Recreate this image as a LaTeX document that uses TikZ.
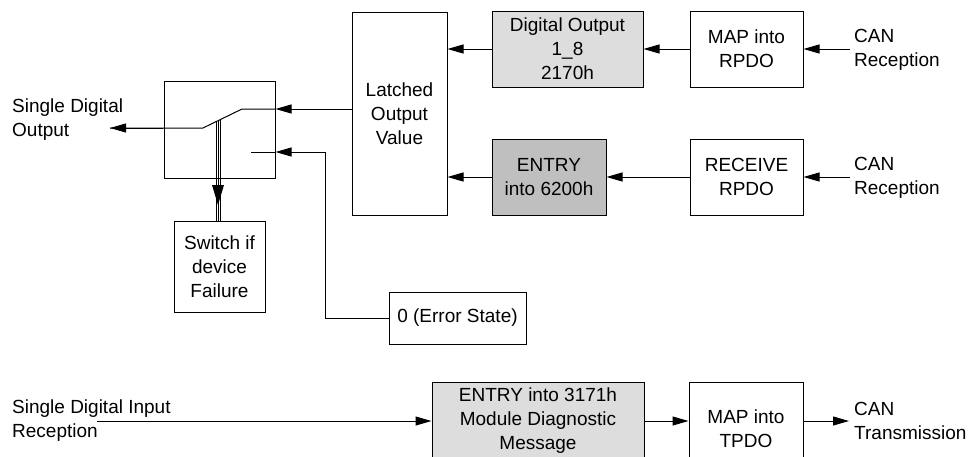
\documentclass[tikz,border=0pt]{standalone}
\usepackage{fontspec}
\setmainfont{Liberation Sans}
\usetikzlibrary{arrows.meta}
\definecolor{lightbox}{HTML}{DDDDDD}
\definecolor{darkbox}{HTML}{BFBFBF}
\begin{document}
\begin{tikzpicture}[x=1pt,y=-1pt,
  every node/.style={font=\fontsize{19}{24}\selectfont, inner sep=0pt, align=center},
  blk/.style={draw, line width=1pt},
  conn/.style={line width=1pt},
  arr/.style={conn, -{Triangle[length=16pt,width=9pt]}},
  lbl/.style={anchor=west, align=left}]
\useasboundingbox (0,0) rectangle (970,456);
% boxes
\node[blk, minimum width=111pt, minimum height=97pt] (sw) at (219.5,129.5) {};
\node[blk, minimum width=91pt, minimum height=91pt] (fail) at (219.5,266.5) {Switch if\\device\\Failure};
\node[blk, minimum width=95pt, minimum height=203pt] (latch) at (399.5,113.5) {Latched\\Output\\Value};
\node[blk, fill=lightbox, minimum width=151pt, minimum height=76pt] (dout) at (567.5,49) {Digital Output\\1\_8\\2170h};
\node[blk, fill=darkbox, minimum width=114pt, minimum height=76pt] (e62) at (549,177) {ENTRY\\into 6200h};
\node[blk, minimum width=113pt, minimum height=76pt] (maprpdo) at (746.5,49) {MAP into\\RPDO};
\node[blk, minimum width=113pt, minimum height=76pt] (recv) at (746.5,177) {RECEIVE\\RPDO};
\node[blk, minimum width=137pt, minimum height=52pt] (err) at (457.5,318) {0 (Error State)};
\node[blk, fill=lightbox, minimum width=212pt, minimum height=78pt] (e31) at (538,421) {ENTRY into 3171h\\Module Diagnostic\\Message};
\node[blk, minimum width=114pt, minimum height=94pt] (maptpdo) at (746,429) {MAP into\\TPDO};
% labels
\node[lbl] (sdo) at (12,120) {Single Digital\\Output};
\node[lbl] (can1) at (854,50) {CAN\\Reception};
\node[lbl] (can2) at (854,178) {CAN\\Reception};
\node[lbl] (sdi) at (12,421) {Single Digital Input\\Reception};
\node[lbl] (cant) at (854,421) {CAN\\Transmission};
% coordinates
\coordinate (pA) at (242,109);
\coordinate (piv) at (203,128);
\coordinate (outtip) at (110,128);
\coordinate (cB) at (251,152);
\coordinate (cC) at (325,152);
\coordinate (inS) at (97,421);
% connectors
\draw[arr] (latch.west |- pA) -- (sw.east |- pA);
\draw[conn] (sw.east |- pA) -- (pA) -- (piv) -- (outtip);
\draw[arr] ([xshift=-1pt]piv -| sw.west) -- (outtip);
\draw[conn] (err.west) -| (cC);
\draw[arr] (cC) -- (sw.east |- cC);
\draw[conn] (sw.east |- cC) -- (cB);
\draw[line width=0.6pt] (216,121.7) -- (216,221) (218,120.7) -- (218,221) (220,119.7) -- (220,221);
\fill (212,185) -- (224,185) -- (218,205) -- cycle;
\draw[arr] (dout.west) -- (latch.east |- dout.west);
\draw[arr] (maprpdo.west) -- (dout.east);
\draw[arr] ([xshift=-4pt]can1.west |- maprpdo.east) -- (maprpdo.east);
\draw[arr] (e62.west) -- (latch.east |- e62.west);
\draw[arr] (recv.west) -- (e62.east);
\draw[arr] ([xshift=-4pt]can2.west |- recv.east) -- (recv.east);
\draw[arr] (inS) -- (e31.west);
\draw[arr] (e31.east) -- (maptpdo.west |- e31.east);
\draw[arr] (maptpdo.east |- e31.east) -- ([xshift=-5pt]cant.west |- e31.east);
\end{tikzpicture}
\end{document}
